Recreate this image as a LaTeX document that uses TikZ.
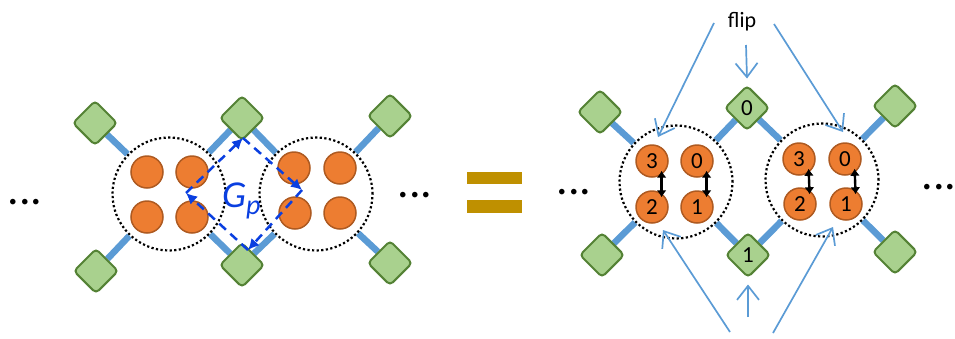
\documentclass[tikz,border=0pt]{standalone}
\usepackage{fontspec}
\setmainfont{Carlito}
\usetikzlibrary{arrows.meta,shapes,backgrounds}

\definecolor{sitefill}{HTML}{ED7D31}
\definecolor{sitedraw}{HTML}{AE5A21}
\definecolor{plaqfill}{HTML}{A9D18E}
\definecolor{plaqdraw}{HTML}{548235}
\definecolor{linkblue}{HTML}{5B9BD5}
\definecolor{loopblue}{HTML}{0A3FE0}
\definecolor{eqgold}{HTML}{BF9000}

\begin{document}
\begin{tikzpicture}[
  x=1pt,y=-1pt,
  cell/.style={circle,draw=black,line width=2.2pt,dash pattern=on 2.2pt off 2.4pt,minimum size=113pt,inner sep=0pt},
  site/.style={circle,draw=sitedraw,fill=sitefill,line width=1.5pt,minimum size=32pt,inner sep=0pt,font=\fontsize{23}{23}\selectfont},
  plaq/.style={diamond,rounded corners=4pt,draw=plaqdraw,fill=plaqfill,line width=2pt,minimum size=45pt,inner sep=0pt,font=\fontsize{23}{23}\selectfont},
  link/.style={draw=linkblue,line width=6.5pt},
  fliparrow/.style={draw=linkblue,line width=1.7pt,-{Straight Barb[length=14pt,width=22pt]}},
  exch/.style={{Latex[length=7pt,width=10pt]}-{Latex[length=7pt,width=10pt]},line width=2.4pt},
  gpath/.style={draw=loopblue,line width=2.5pt,dash pattern=on 9pt off 6pt,-{Latex[length=11pt,width=11pt]}},
  ellip/.style={anchor=base,inner sep=0pt,font=\fontsize{46}{46}\selectfont}
]
\useasboundingbox (0,0) rectangle (955,338);

% Left: two cells and their plaquettes
\node[cell] (lcellA) at (169,194) {};
\node[cell] (lcellB) at (316,194) {};

\node[site] (la1) at (147,172) {};
\node[site] (la2) at (192,172) {};
\node[site] (la3) at (147,217) {};
\node[site] (la4) at (192,217) {};
\node[site] (lb1) at (294,168) {};
\node[site] (lb2) at (340,168) {};
\node[site] (lb3) at (295,213) {};
\node[site] (lb4) at (340,213) {};

\node[plaq] (lp1) at (95,123) {};
\node[plaq] (lp2) at (242,118) {};
\node[plaq] (lp3) at (390,116) {};
\node[plaq] (lp4) at (96,271) {};
\node[plaq] (lp5) at (242,265) {};
\node[plaq] (lp6) at (390,263) {};

\node[ellip] (ldots1) at (25,204.5) {...};
\node[ellip] (ldots2) at (415,197.5) {...};

% G_p loop
\coordinate (gL) at (186,193);
\coordinate (gT) at (243,138);
\coordinate (gR) at (302,190);
\coordinate (gB) at (248,250);
\node[anchor=base west,inner sep=0pt,text=loopblue,font=\fontsize{38}{38}\selectfont\itshape] (gplabel) at (222,207) {G\raisebox{-7pt}{\fontsize{28}{28}\selectfont p}};

% Equals
\fill[eqgold] (467,172) rectangle (522,184);
\fill[eqgold] (467,200) rectangle (522,213);

% Right: same cells after the flip
\node[cell] (rcellA) at (676,182) {};
\node[cell] (rcellB) at (822,180) {};

\node[site] (ra3) at (652,161) {3};
\node[site] (ra0) at (697,161) {0};
\node[site] (ra2) at (652,207) {2};
\node[site] (ra1) at (697,207) {1};
\node[site] (rb3) at (799,159) {3};
\node[site] (rb0) at (845,159) {0};
\node[site] (rb2) at (800,204) {2};
\node[site] (rb1) at (846,204) {1};

\node[plaq] (rp1) at (600,112) {};
\node[plaq] (rp2) at (747,108) {0};
\node[plaq] (rp3) at (895,106) {};
\node[plaq] (rp4) at (602,255) {};
\node[plaq] (rp5) at (748,255) {1};
\node[plaq] (rp6) at (895,252) {};

\node[ellip] (rdots1) at (574,194.5) {...};
\node[ellip] (rdots2) at (939,189.5) {...};

\node[anchor=base,font=\fontsize{22}{22}\selectfont] (flip) at (742,27) {flip};

\coordinate (ftl) at (714,23);
\coordinate (ftlend) at (658,137);
\coordinate (ftr) at (774,24);
\coordinate (ftrend) at (843,132);
\coordinate (ftm) at (746,45);
\coordinate (fbl) at (730,332);
\coordinate (fblend) at (663,230);
\coordinate (fbr) at (773,333);
\coordinate (fbrend) at (833,227);
\coordinate (fbm) at (748,317);

% Links
\begin{scope}[on background layer]
\draw[link] (lp1) -- (lcellA);
\draw[link] (lp4) -- (lcellA);
\draw[link] (lp2) -- (lcellA);
\draw[link] (lp5) -- (lcellA);
\draw[link] (lp2) -- (lcellB);
\draw[link] (lp5) -- (lcellB);
\draw[link] (lp3) -- (lcellB);
\draw[link] (lp6) -- (lcellB);
\draw[link] (rp1) -- (rcellA);
\draw[link] (rp4) -- (rcellA);
\draw[link] (rp2) -- (rcellA);
\draw[link] (rp5) -- (rcellA);
\draw[link] (rp2) -- (rcellB);
\draw[link] (rp5) -- (rcellB);
\draw[link] (rp3) -- (rcellB);
\draw[link] (rp6) -- (rcellB);
\end{scope}

% Arrows
\draw[gpath] (gL) -- (gT);
\draw[gpath] (gT) -- (gR);
\draw[gpath] (gR) -- (gB);
\draw[gpath] (gB) -- (gL);

\draw[exch] ([yshift=4pt]ra3.-55) -- ([yshift=-4pt]ra2.55);
\draw[exch] ([yshift=4pt]ra0.-55) -- ([yshift=-4pt]ra1.55);
\draw[exch] ([yshift=4pt]rb3.-55) -- ([yshift=-4pt]rb2.55);
\draw[exch] ([yshift=4pt]rb0.-55) -- ([yshift=-4pt]rb1.55);

\draw[fliparrow] (ftl) -- (ftlend);
\draw[fliparrow] (ftr) -- (ftrend);
\draw[fliparrow] (ftm) -- ([yshift=6pt]rp2.north);
\draw[fliparrow] (fbl) -- (fblend);
\draw[fliparrow] (fbr) -- (fbrend);
\draw[fliparrow] (fbm) -- ([yshift=-6pt]rp5.south);

\end{tikzpicture}
\end{document}
